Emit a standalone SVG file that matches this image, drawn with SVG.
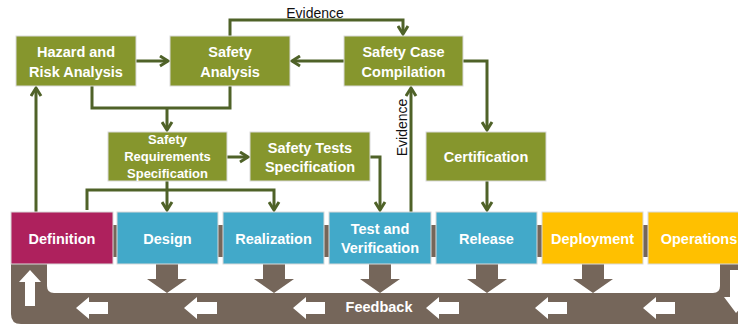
<svg xmlns="http://www.w3.org/2000/svg" width="738" height="327" viewBox="0 0 738 327">
<defs>
<style>
.g{fill:#86962D;stroke:#d9d9d9;stroke-width:1}
.b{fill:#42A9C9;stroke:#d9d9d9;stroke-width:1}
.y{fill:#FFC000;stroke:#d9d9d9;stroke-width:1}
.m{fill:#AE215D;stroke:#d9d9d9;stroke-width:1}
.t{font-family:"Liberation Sans",Arial,sans-serif;font-weight:bold;font-size:14.5px;fill:#fff;text-anchor:middle}
.ts{font-size:13px}
.c{fill:none;stroke:#4F6228;stroke-width:3}
.a{marker-end:url(#ah)}
.lbl{font-family:"Liberation Sans",Arial,sans-serif;font-size:14px;fill:#111;text-anchor:middle}
.br{fill:#75665A}
.w{fill:#fff}
</style>
<marker id="ah" markerUnits="userSpaceOnUse" markerWidth="13" markerHeight="13" viewBox="0 0 13 13" refX="11" refY="6.5" orient="auto">
<path d="M3,1.5 L11,6.5 L3,11.5" fill="none" stroke="#4F6228" stroke-width="3"/>
</marker>
</defs>

<g id="feedback-loop">
<rect class="br" x="11" y="225" width="730" height="32"/>
<path class="br" d="M11,262 L47,262 L47,286 Q47,293 54,293 L713,293 Q720,293 720,286 L720,262 L740,262 L740,324 L21,324 Q11,324 11,314 Z"/>
<polygon class="br" points="156,262 178,262 178,279 187,279 167,293 147,279 156,279"/>
<polygon class="br" points="263,262 285,262 285,279 294,279 274,293 254,279 263,279"/>
<polygon class="br" points="369,262 391,262 391,279 400,279 380,293 360,279 369,279"/>
<polygon class="br" points="476,262 498,262 498,279 507,279 487,293 467,279 476,279"/>
<polygon class="br" points="582,262 604,262 604,279 613,279 593,293 573,279 582,279"/>
<polygon class="w" points="30,270 41,282 35,282 35,306 25,306 25,282 19,282"/>
<polygon class="w" points="730,270 742,270 742,297 750,297 736,313 724,297 730,297"/>
<polygon class="w" points="76,308 89,297 89,302 108,302 108,314 89,314 89,319"/>
<polygon class="w" points="184,308 197,297 197,302 217,302 217,314 197,314 197,319"/>
<polygon class="w" points="293,308 306,297 306,302 325,302 325,314 306,314 306,319"/>
<polygon class="w" points="426,308 439,297 439,302 459,302 459,314 439,314 439,319"/>
<polygon class="w" points="535,308 548,297 548,302 567,302 567,314 548,314 548,319"/>
<polygon class="w" points="643,308 656,297 656,302 675,302 675,314 656,314 656,319"/>
<text class="t" x="379" y="312">Feedback</text>
</g>

<g id="connectors">
<path class="c a" d="M136,61 H168"/>
<path class="c a" d="M344,61 H292"/>
<path class="c a" d="M230,36 V20 H403 V34"/>
<path class="c" d="M92,86 V108 H230 V86"/>
<path class="c a" d="M167,108 V130"/>
<path class="c a" d="M227,157 H248"/>
<path class="c a" d="M167,181 V210"/>
<path class="c a" d="M87,210 V190 H274 V210"/>
<path class="c a" d="M370,157 H380 V210"/>
<path class="c a" d="M411,212 V88"/>
<path class="c a" d="M463,61 H487 V130"/>
<path class="c a" d="M487,181 V210"/>
<path class="c a" d="M36,212 V88"/>
<text class="lbl" x="315" y="18">Evidence</text>
<text class="lbl" transform="translate(407,127.5) rotate(-90)">Evidence</text>
</g>

<g id="hazard-risk-analysis"><rect class="g" x="16" y="36" width="120" height="50"/><text class="t" x="76" y="57">Hazard and</text><text class="t" x="76" y="77">Risk Analysis</text></g>
<g id="safety-analysis"><rect class="g" x="170" y="36" width="120" height="50"/><text class="t" x="230" y="57">Safety</text><text class="t" x="230" y="77">Analysis</text></g>
<g id="safety-case-compilation"><rect class="g" x="344" y="36" width="119" height="50"/><text class="t" x="403.5" y="57">Safety Case</text><text class="t" x="403.5" y="77">Compilation</text></g>
<g id="safety-requirements-specification"><rect class="g" x="108" y="132" width="119" height="49"/><text class="t ts" x="167.5" y="144">Safety</text><text class="t ts" x="167.5" y="161">Requirements</text><text class="t ts" x="167.5" y="178">Specification</text></g>
<g id="safety-tests-specification"><rect class="g" x="250" y="132" width="120" height="49"/><text class="t" x="310" y="153">Safety Tests</text><text class="t" x="310" y="172">Specification</text></g>
<g id="certification"><rect class="g" x="426" y="132" width="120" height="49"/><text class="t" x="486" y="162">Certification</text></g>

<g id="definition"><rect class="m" x="11" y="212" width="102" height="52"/><text class="t" x="62" y="244">Definition</text></g>
<g id="design"><rect class="b" x="117" y="212" width="101" height="52"/><text class="t" x="167.5" y="244">Design</text></g>
<g id="realization"><rect class="b" x="223" y="212" width="101" height="52"/><text class="t" x="273.5" y="244">Realization</text></g>
<g id="test-and-verification"><rect class="b" x="329" y="212" width="102" height="52"/><text class="t" x="380" y="234">Test and</text><text class="t" x="380" y="253">Verification</text></g>
<g id="release"><rect class="b" x="436" y="212" width="101" height="52"/><text class="t" x="486.5" y="244">Release</text></g>
<g id="deployment"><rect class="y" x="542" y="212" width="101" height="52"/><text class="t" x="592.5" y="244">Deployment</text></g>
<g id="operations"><rect class="y" x="648" y="212" width="101" height="52"/><text class="t" x="699" y="244">Operations</text></g>
</svg>
